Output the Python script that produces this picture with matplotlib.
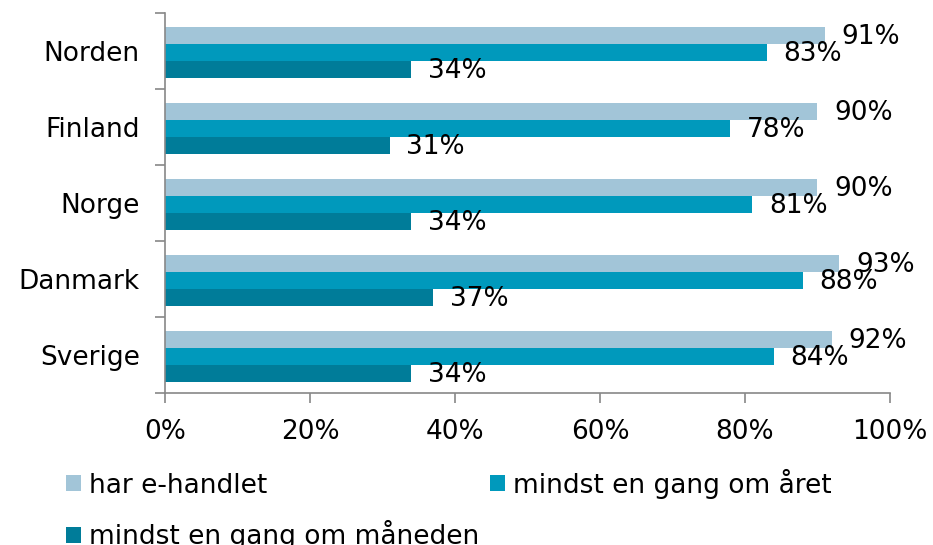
import numpy as np
import matplotlib.pyplot as plt

plt.rcParams['font.family'] = ['DejaVu Sans']

lande = ['Sverige', 'Danmark', 'Norge', 'Finland', 'Norden']
har_ehandlet = [92, 93, 90, 90, 91]
per_aar = [84, 88, 81, 78, 83]
per_maaned = [34, 37, 34, 31, 34]
serier = ['har e-handlet', 'mindst en gang om året', 'mindst en gang om måneden']
farver = ['#a2c5d8', '#0099bc', '#007c99']
xticks = [0, 20, 40, 60, 80, 100]

fs = 19
fig = plt.figure(figsize=(9.33, 5.45), dpi=100)
ax = fig.add_axes([0.1768, 0.2789, 0.7771, 0.6973])

y = np.arange(len(lande))
h = 0.222
offs = [h, 0, -h]
bars = []
for vals, off, c, lab in zip([har_ehandlet, per_aar, per_maaned], offs, farver, serier):
    b = ax.barh(y + off - 0.02, vals, height=h, color=c, label=lab)
    bars.append(b)
    for yi, v in zip(y, vals):
        ax.annotate(f'{v}%', (v, yi + off - 0.04), xytext=(12, 0), textcoords='offset points',
                    ha='left', va='center', fontsize=fs, color='black')

ax.set_xlim(0, 100)
ax.set_ylim(-0.5, 4.5)
ax.set_xticks(xticks)
ax.set_xticklabels([f'{t}%' for t in xticks], fontsize=fs)
ax.set_yticks(y)
ax.set_yticklabels(lande, fontsize=fs)
ax.set_yticks(np.arange(-0.5, 5, 1), minor=True)
ax.tick_params(axis='y', which='major', length=0, pad=18)
ax.tick_params(axis='y', which='minor', length=7, color='#888888', width=1.2)
ax.tick_params(axis='x', length=7, color='#888888', width=1.2, pad=12)
for s in ['top', 'right']:
    ax.spines[s].set_visible(False)
for s in ['left', 'bottom']:
    ax.spines[s].set_color('#888888')
    ax.spines[s].set_linewidth(1.2)

handles = [bars[0], bars[2], bars[1]]
labels = [serier[0], serier[2], serier[1]]
fig.legend(handles, labels, ncol=2, loc='upper left', bbox_to_anchor=(0.071, 0.14),
           frameon=False, fontsize=fs, handlelength=0.57, handleheight=0.55,
           handletextpad=0.3, columnspacing=0.4, labelspacing=0.8, borderpad=0,
           borderaxespad=0)

fig.savefig('out.png', dpi=100)
